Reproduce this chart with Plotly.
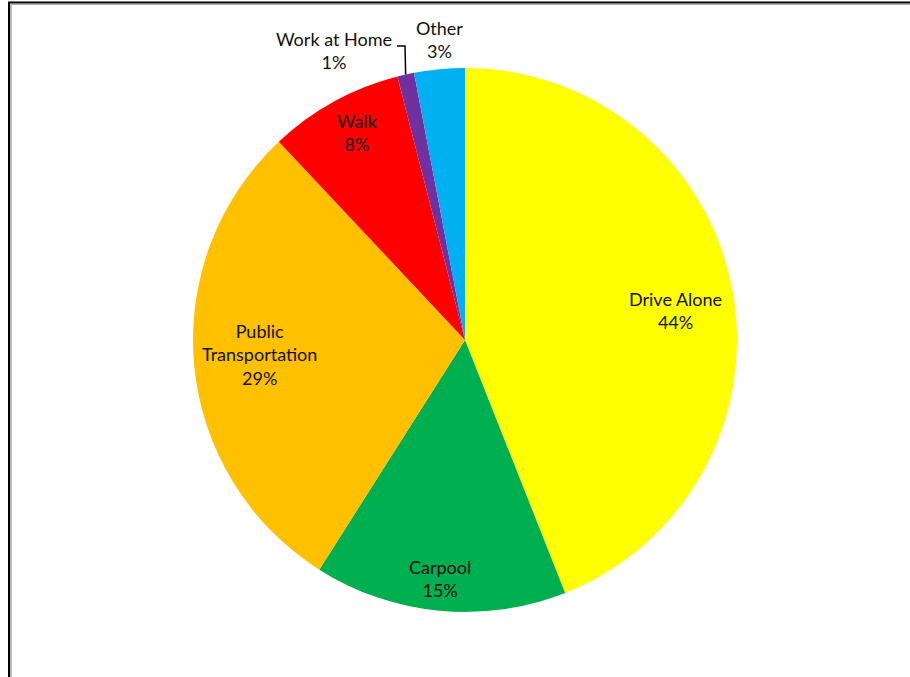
import math
import plotly.graph_objects as go

# Commute mode shares (percent)
modes = ["Drive Alone", "Carpool", "Public<br>Transportation", "Walk", "Work at Home", "Other"]
shares = [44, 15, 29, 8, 1, 3]
colors = ["#FFFF00", "#00B050", "#FFC000", "#FF0000", "#7030A0", "#00B0F0"]

# Label centres in pixels (x, y from top)
label_pos = [(675, 310), (440, 578), (259, 354), (357, 132), (334, 51), (439, 39)]

W, H = 910, 677
CX, CY, R = 465, 340, 272  # pie centre and radius in pixels


def px(x):
    return x / W


def py(y):
    return 1 - y / H


fig = go.Figure(
    go.Pie(
        labels=[m.replace("<br>", " ") for m in modes],
        values=shares,
        marker=dict(colors=colors, line=dict(width=0)),
        sort=False,
        direction="clockwise",
        rotation=0,
        textinfo="none",
        hoverinfo="skip",
        showlegend=False,
        domain=dict(x=[px(CX - R), px(CX + R)], y=[py(CY + R), py(CY - R)]),
    )
)

font = dict(family="Lato, Carlito, Calibri, sans-serif", size=18, color="#111111")
annotations = []
for name, val, (lx, ly) in zip(modes, shares, label_pos):
    annotations.append(
        dict(
            x=px(lx), y=py(ly), xref="paper", yref="paper",
            text=f"{name}<br>{val}%", showarrow=False,
            xanchor="center", yanchor="middle", align="center", font=font,
        )
    )

# Leader line to the small "Work at Home" slice, ending on its mid-angle edge
total = sum(shares)
idx = modes.index("Work at Home")
start = sum(shares[:idx]) / total
mid = (start + shares[idx] / total / 2) * 2 * math.pi
ex = CX + R * math.sin(mid)
ey = CY - R * math.cos(mid)
shapes = [
    dict(
        type="path", xref="paper", yref="paper",
        path=f"M {px(397)} {py(46)} L {px(405)} {py(46)} L {px(ex)} {py(ey)}",
        line=dict(color="#000000", width=1.5),
    ),
    # chart frame
    dict(type="rect", xref="paper", yref="paper",
         x0=px(9), y0=py(2.5), x1=px(W + 20), y1=py(H + 20),
         line=dict(color="#000000", width=2)),
    dict(type="rect", xref="paper", yref="paper",
         x0=px(11), y0=py(4.2), x1=px(W + 20), y1=py(H + 20),
         line=dict(color="#8a8a8a", width=1.2)),
]

fig.update_layout(
    width=W, height=H,
    margin=dict(l=0, r=0, t=0, b=0),
    paper_bgcolor="#ffffff",
    plot_bgcolor="#ffffff",
    annotations=annotations,
    shapes=shapes,
)

fig.write_html("out.html")
